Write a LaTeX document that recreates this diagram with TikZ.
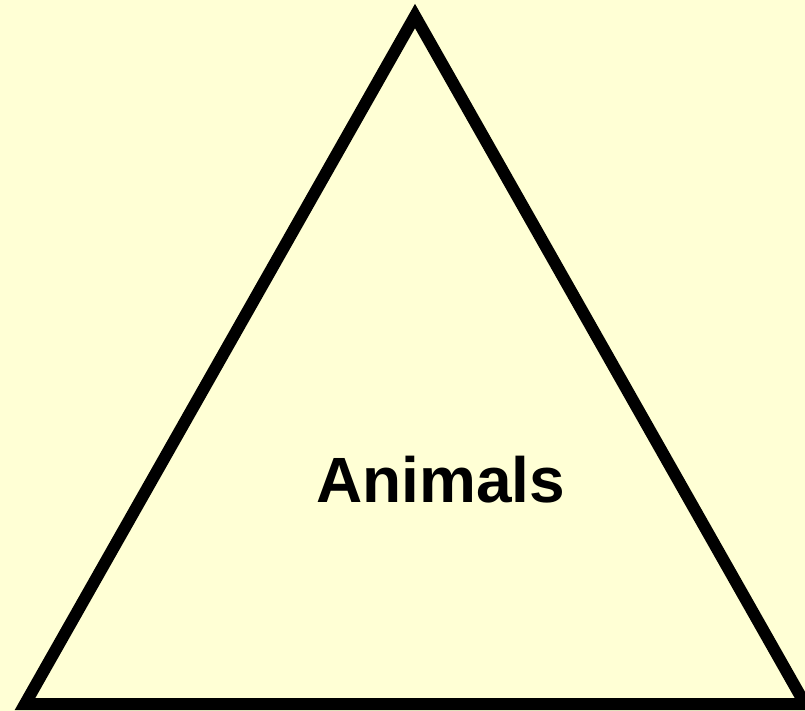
\documentclass[tikz,border=0pt]{standalone}
\usepackage{fontspec}
\setmainfont{Liberation Sans}
\definecolor{bgyellow}{HTML}{FFFFD5}
\begin{document}
\begin{tikzpicture}[x=1pt,y=-1pt,
  tri/.style={draw=black,line width=12pt,line join=miter},
  lbl/.style={font=\fontsize{64}{70}\selectfont\bfseries,inner sep=0pt,anchor=base}]
\fill[bgyellow] (0,0) rectangle (805,711);
\useasboundingbox (0,0) rectangle (805,711);
\coordinate (top) at (415,16);
\coordinate (bl) at (25,704);
\coordinate (br) at (805,704);
\draw[tri] (top) -- (bl) -- (br) -- cycle;
\node[lbl] (animals) at (440.5,502) {Animals};
\end{tikzpicture}
\end{document}
